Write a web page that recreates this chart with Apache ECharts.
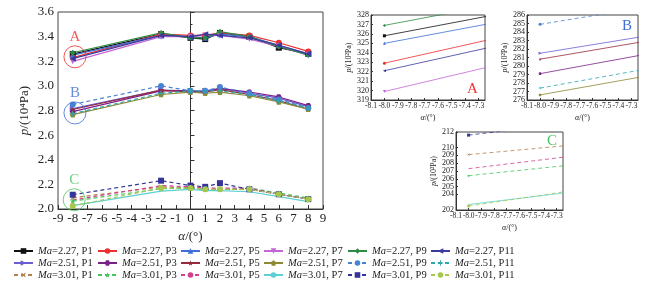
<!DOCTYPE html>
<html>
<head>
<meta charset="utf-8">
<script src="https://cdn.jsdelivr.net/npm/echarts@6/dist/echarts.min.js"></script>
<style>
html, body { margin: 0; padding: 0; background: #fff; }
#chart { width: 667px; height: 285px; }
</style>
</head>
<body>
<div id="chart"></div>
<script>
// angle of attack (deg)
const alpha = [-8, -2, 0, 1, 2, 4, 6, 8];

// pressure, 10^4 Pa
const m227p1  = [3.258, 3.42, 3.39, 3.38, 3.43, 3.40, 3.31, 3.26];
const m227p3  = [3.229, 3.42, 3.41, 3.41, 3.43, 3.41, 3.35, 3.28];
const m227p5  = [3.250, 3.41, 3.40, 3.39, 3.42, 3.40, 3.33, 3.26];
const m227p7  = [3.199, 3.40, 3.40, 3.41, 3.41, 3.38, 3.32, 3.25];
const m227p9  = [3.269, 3.43, 3.39, 3.39, 3.44, 3.40, 3.32, 3.25];
const m227p11 = [3.221, 3.41, 3.40, 3.42, 3.41, 3.39, 3.33, 3.26];

const m251p1  = [2.815, 2.965, 2.96, 2.96, 2.98, 2.94, 2.90, 2.83];
const m251p3  = [2.791, 2.96, 2.96, 2.95, 2.98, 2.95, 2.91, 2.84];
const m251p5  = [2.808, 2.965, 2.95, 2.95, 2.97, 2.93, 2.88, 2.81];
const m251p7  = [2.766, 2.93, 2.95, 2.94, 2.95, 2.92, 2.87, 2.81];
const m251p9  = [2.849, 3.00, 2.96, 2.96, 2.99, 2.94, 2.89, 2.82];
const m251p11 = [2.774, 2.94, 2.96, 2.96, 2.96, 2.93, 2.88, 2.82];

const m301p1  = [2.091, 2.18, 2.17, 2.16, 2.16, 2.16, 2.12, 2.08];
const m301p3  = [2.064, 2.165, 2.17, 2.16, 2.16, 2.17, 2.13, 2.09];
const m301p5  = [2.073, 2.19, 2.18, 2.17, 2.17, 2.17, 2.12, 2.08];
const m301p7  = [2.027, 2.145, 2.16, 2.15, 2.15, 2.14, 2.10, 2.06];
const m301p9  = [2.116, 2.23, 2.19, 2.18, 2.21, 2.16, 2.12, 2.08];
const m301p11 = [2.025, 2.17, 2.17, 2.16, 2.16, 2.16, 2.12, 2.08];

// marked groups (circle centre) and their labels
const groupLabels = ['A', 'B', 'C'];
const groupCentres = [[-7.85, 3.236], [-7.85, 2.78], [-7.9, 2.075]];

const FONT = '"Liberation Serif", "Times New Roman", serif';

const HEX  = 'path://M2,0L6,0L8,3.46L6,6.93L2,6.93L0,3.46Z';
const STAR = 'path://M5,0L6.2,3.8L10,3.8L7,6.2L8.1,10L5,7.6L1.9,10L3,6.2L0,3.8L3.8,3.8Z';
const PENT = 'path://M5,0L10,3.6L8.1,9.5L1.9,9.5L0,3.6Z';
const PLUS = 'path://M4.2,0H5.8V4.2H10V5.8H5.8V10H4.2V5.8H0V4.2H4.2Z';

const defs = [
	{name: 'Ma=2.27, P1',  data: m227p1,  color: '#111111', symbol: 'rect'},
	{name: 'Ma=2.27, P3',  data: m227p3,  color: '#ee2f2f', symbol: 'circle'},
	{name: 'Ma=2.27, P5',  data: m227p5,  color: '#3f6fd6', symbol: 'triangle'},
	{name: 'Ma=2.27, P7',  data: m227p7,  color: '#c466d6', symbol: 'triangle', rot: 180},
	{name: 'Ma=2.27, P9',  data: m227p9,  color: '#2f8a45', symbol: 'diamond'},
	{name: 'Ma=2.27, P11', data: m227p11, color: '#3a3a9e', symbol: 'triangle', rot: 90},
	{name: 'Ma=2.51, P1',  data: m251p1,  color: '#6a5ed2', symbol: 'triangle', rot: -90},
	{name: 'Ma=2.51, P3',  data: m251p3,  color: '#7a2088', symbol: HEX},
	{name: 'Ma=2.51, P5',  data: m251p5,  color: '#982a3c', symbol: STAR},
	{name: 'Ma=2.51, P7',  data: m251p7,  color: '#8c8a34', symbol: PENT},
	{name: 'Ma=2.51, P9',  data: m251p9,  color: '#4a82d2', symbol: 'circle', dashed: true},
	{name: 'Ma=2.51, P11', data: m251p11, color: '#2aa6ae', symbol: PLUS, dashed: true},
	{name: 'Ma=3.01, P1',  data: m301p1,  color: '#b0804e', symbol: PLUS, rot: 45, dashed: true},
	{name: 'Ma=3.01, P3',  data: m301p3,  color: '#48c45e', symbol: STAR, dashed: true},
	{name: 'Ma=3.01, P5',  data: m301p5,  color: '#d0408c', symbol: 'none', dashed: true},
	{name: 'Ma=3.01, P7',  data: m301p7,  color: '#5cd0d2', symbol: 'none'},
	{name: 'Ma=3.01, P9',  data: m301p9,  color: '#34349a', symbol: 'rect', dashed: true},
	{name: 'Ma=3.01, P11', data: m301p11, color: '#a6c64e', symbol: 'circle', dashed: true},
];

function makeSeries(d, axisIdx, scale, size, width) {
	return {
		name: d.name,
		type: 'line',
		xAxisIndex: axisIdx,
		yAxisIndex: axisIdx,
		data: alpha.map((a, i) => [a, +(d.data[i] * scale).toFixed(3)]),
		symbol: d.symbol,
		symbolRotate: d.rot || 0,
		symbolSize: size,
		symbolKeepAspect: true,
		clip: true,
		silent: true,
		animation: false,
		itemStyle: {color: d.color},
		lineStyle: {color: d.color, width: width, type: d.dashed ? [4, 3] : 'solid'},
		z: 3,
	};
}

const series = [];
defs.forEach(d => series.push(makeSeries(d, 0, 1, 6, 1.2)));
// insets: A -> Ma 2.27, B -> Ma 2.51, C -> Ma 3.01, in 10^2 Pa
defs.forEach((d, i) => series.push(makeSeries(d, 1 + Math.floor(i / 6), 100, 3, 0.8)));

const circleColors = ['#ee2f2f', '#3f6fd6', '#48c45e'];
groupCentres.forEach((c, i) => {
	series.push({
		type: 'scatter',
		xAxisIndex: 0, yAxisIndex: 0,
		data: [c],
		symbol: 'circle',
		symbolSize: 22,
		silent: true,
		itemStyle: {color: 'transparent', borderColor: circleColors[i], borderWidth: 1},
		label: {
			show: true, position: 'top', distance: 1,
			formatter: groupLabels[i],
			color: circleColors[i], fontFamily: FONT, fontSize: 15,
		},
		z: 4,
	});
});

const axisLine = {show: true, lineStyle: {color: '#333', width: 1}};

function mainAxes() {
	return {
		x: {
			type: 'value', gridIndex: 0, min: -9, max: 9, interval: 1,
			axisLine: axisLine,
			axisTick: {show: true, inside: true, length: 4, lineStyle: {color: '#333'}},
			axisLabel: {color: '#222', fontFamily: FONT, fontSize: 13, margin: 3,
				showMinLabel: true, showMaxLabel: true},
			splitLine: {show: false},
			name: '{i|α}/(°)', nameLocation: 'middle', nameGap: 19,
			nameTextStyle: {color: '#222', fontFamily: FONT, fontSize: 13,
				rich: {i: {fontStyle: 'italic', fontFamily: FONT, fontSize: 13, color: '#222'}}},
		},
		y: {
			type: 'value', gridIndex: 0, min: 2.0, max: 3.6, interval: 0.2,
			axisLine: axisLine,
			axisTick: {show: true, inside: true, length: 4, lineStyle: {color: '#333'}},
			minorTick: {show: true, splitNumber: 2, length: 2, lineStyle: {color: '#333'}},
			axisLabel: {color: '#222', fontFamily: FONT, fontSize: 13, margin: 4,
				showMinLabel: true, showMaxLabel: true,
				formatter: v => v.toFixed(1)},
			splitLine: {show: false},
			name: '{i|p}/(10⁴Pa)', nameLocation: 'middle', nameRotate: 90, nameGap: 27,
			nameTextStyle: {color: '#222', fontFamily: FONT, fontSize: 13,
				rich: {i: {fontStyle: 'italic', fontFamily: FONT, fontSize: 13, color: '#222'}}},
		},
	};
}

function insetAxes(idx, ymin, ymax) {
	const small = {color: '#222', fontFamily: FONT, fontSize: 8};
	const tiny = {color: '#222', fontFamily: FONT, fontSize: 7.5};
	return {
		x: {
			type: 'value', gridIndex: idx, min: -8.1, max: -7.25, interval: 0.1,
			axisLine: axisLine,
			axisTick: {show: true, inside: true, length: 2, lineStyle: {color: '#333'}},
			axisLabel: Object.assign({margin: 2, showMinLabel: true, showMaxLabel: false,
				formatter: v => v.toFixed(1)}, tiny),
			splitLine: {show: false},
			name: '{i|α}/(°)', nameLocation: 'middle', nameGap: 14,
			nameTextStyle: Object.assign({rich: {i: Object.assign({fontStyle: 'italic'}, small)}}, small),
		},
		y: {
			type: 'value', gridIndex: idx, min: ymin, max: ymax, interval: 1,
			axisLine: axisLine,
			axisTick: {show: true, inside: true, length: 2, lineStyle: {color: '#333'}},
			axisLabel: Object.assign({margin: 2, showMinLabel: true, showMaxLabel: true}, small),
			splitLine: {show: false},
			name: '{i|p}/(10²Pa)', nameLocation: 'middle', nameRotate: 90, nameGap: 17,
			nameTextStyle: Object.assign({rich: {i: Object.assign({fontStyle: 'italic'}, small)}}, small),
		},
	};
}

const ax = [mainAxes(), insetAxes(1, 319, 328), insetAxes(2, 276, 286), insetAxes(3, 202, 212)];

const gridBox = {show: true, borderColor: '#444', borderWidth: 1, backgroundColor: 'transparent'};

// legend: 6 columns, 3 rows (Ma = 2.27 / 2.51 / 3.01)
const colLeft = [13, 97, 180, 263, 347, 430];
const legendFont = {fontFamily: FONT, fontSize: 10.5, lineHeight: 12, color: '#222'};
const legends = colLeft.map((left, j) => ({
	orient: 'vertical',
	left: left,
	top: 245,
	itemWidth: 19,
	itemHeight: 7,
	itemGap: 0,
	padding: 0,
	selectedMode: false,
	data: [defs[j].name, defs[6 + j].name, defs[12 + j].name],
	formatter: name => '{i|Ma}{n|' + name.slice(2) + '}',
	textStyle: Object.assign({
		padding: [0, 0, 0, 0],
		rich: {
			i: Object.assign({fontStyle: 'italic'}, legendFont),
			n: Object.assign({}, legendFont),
		},
	}, legendFont),
}));

const letterStyle = size => ({fontFamily: FONT, fontSize: size});

const option = {
	animation: false,
	backgroundColor: '#fff',
	grid: [
		Object.assign({left: 58, top: 12, width: 265, height: 197}, gridBox),
		Object.assign({left: 371, top: 15, width: 114, height: 85}, gridBox),
		Object.assign({left: 527, top: 15, width: 111, height: 85}, gridBox),
		Object.assign({left: 456, top: 132, width: 107, height: 78}, gridBox),
	],
	xAxis: ax.map(a => a.x),
	yAxis: ax.map(a => a.y),
	legend: legends,
	graphic: [
		{type: 'text', left: 467, top: 82, style: Object.assign({text: 'A', fill: '#ee2f2f'}, letterStyle(15))},
		{type: 'text', left: 622, top: 19, style: Object.assign({text: 'B', fill: '#3f6fd6'}, letterStyle(15))},
		{type: 'text', left: 547, top: 134, style: Object.assign({text: 'C', fill: '#48c45e'}, letterStyle(15))},
	],
	series: series,
};

const chart = echarts.init(document.getElementById('chart'), null, {renderer: 'canvas'});
chart.setOption(option);
</script>
</body>
</html>
